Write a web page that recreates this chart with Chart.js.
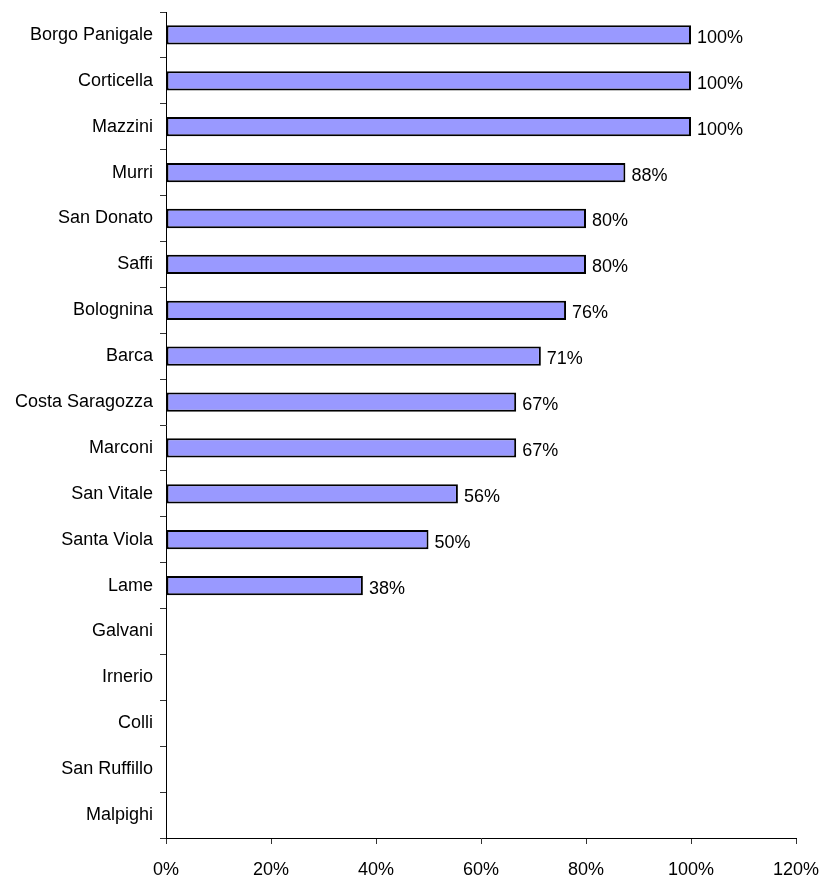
<!DOCTYPE html>
<html>
<head>
<meta charset="utf-8">
<script src="https://cdn.jsdelivr.net/npm/chart.js@4"></script>
<style>
  html, body { margin: 0; padding: 0; background: #fff; }
  #wrap { width: 825px; height: 878px; }
</style>
</head>
<body>
<div id="wrap"><canvas id="bar_chart"></canvas></div>
<script>
// quartieri
const quartieri = ["Borgo Panigale", "Corticella", "Mazzini", "Murri", "San Donato", "Saffi",
    "Bolognina", "Barca", "Costa Saragozza", "Marconi", "San Vitale", "Santa Viola", "Lame",
    "Galvani", "Irnerio", "Colli", "San Ruffillo", "Malpighi"];
// percentuali (null = nessuna barra)
const percentuali = [100, 100, 100, 87.5, 80, 80, 76.2, 71.4, 66.7, 66.7, 55.6, 50, 37.5,
    null, null, null, null, null];
const xTicks = [0, 20, 40, 60, 80, 100, 120];

const FONT = "'Liberation Sans', Arial, sans-serif";

// etichette a destra delle barre
const valueLabels = {
    id: 'valueLabels',
    afterDatasetsDraw(chart) {
        const ctx = chart.ctx;
        const meta = chart.getDatasetMeta(0);
        ctx.save();
        ctx.font = "18px " + FONT;
        ctx.fillStyle = "#000";
        ctx.textAlign = "left";
        ctx.textBaseline = "middle";
        meta.data.forEach((bar, i) => {
            const v = percentuali[i];
            if (v === null) return;
            ctx.fillText(Math.round(v) + "%", bar.x + 6, bar.y + 3);
        });
        ctx.restore();
    }
};

const bar_chart = document.getElementById("bar_chart").getContext('2d');
new Chart(bar_chart, {
    type: 'bar',
    data: {
        labels: quartieri,
        datasets: [{
            data: percentuali,
            backgroundColor: "#9999FF",
            borderColor: "#000",
            borderWidth: 2,
            borderSkipped: false,
            barPercentage: 0.42,
            categoryPercentage: 1.0
        }]
    },
    options: {
        indexAxis: 'y',
        responsive: true,
        maintainAspectRatio: false,
        animation: false,
        layout: { padding: { top: 12, right: 29, bottom: 0, left: 0 } },
        plugins: {
            legend: { display: false },
            tooltip: { enabled: false }
        },
        scales: {
            x: {
                min: 0,
                max: 120,
                afterBuildTicks(scale) {
                    scale.ticks = xTicks.map(v => ({ value: v }));
                },
                afterFit(scale) {
                    scale.height = 40;
                    scale.paddingLeft = 0;
                    scale.paddingRight = 0;
                },
                grid: {
                    drawOnChartArea: false,
                    drawTicks: true,
                    tickLength: 6,
                    color: "#333"
                },
                border: { color: "#000", width: 1 },
                ticks: {
                    padding: 15,
                    color: "#000",
                    font: { family: FONT, size: 18 },
                    maxRotation: 0,
                    callback: v => v + "%"
                }
            },
            y: {
                afterFit(scale) {
                    scale.width = 166;
                    scale.paddingTop = 0;
                    scale.paddingBottom = 0;
                },
                grid: {
                    offset: true,
                    drawOnChartArea: false,
                    drawTicks: true,
                    tickLength: 6,
                    color: "#333"
                },
                border: { color: "#000", width: 1 },
                ticks: {
                    padding: 7,
                    color: "#000",
                    autoSkip: false,
                    font: { family: FONT, size: 18 }
                }
            }
        }
    },
    plugins: [valueLabels]
});
</script>
</body>
</html>
